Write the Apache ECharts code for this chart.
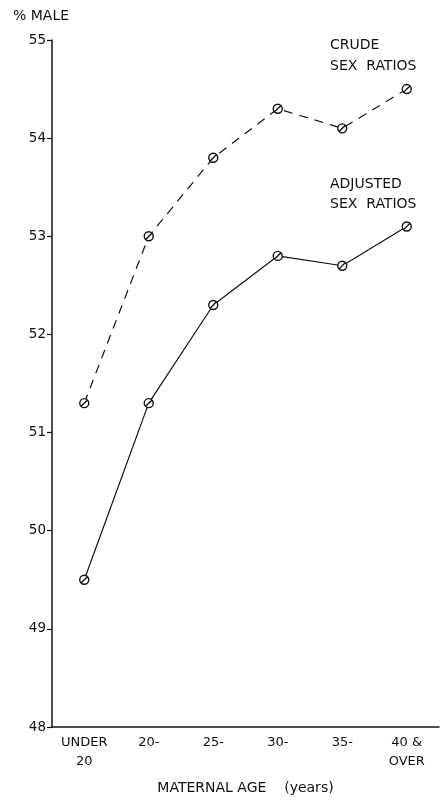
<!DOCTYPE html>
<html>
<head>
<meta charset="utf-8">
<script src="https://cdn.jsdelivr.net/npm/echarts@6/dist/echarts.min.js"></script>
<style>
  html, body { margin: 0; padding: 0; background: #fff; }
  #chart { width: 447px; height: 800px; }
</style>
</head>
<body>
<div id="chart"></div>
<script>
// Maternal age groups and the percentage of male births in each
const ageGroups = ['UNDER\n20', '20-', '25-', '30-', '35-', '40 &\nOVER'];
const crudeRatios = [51.3, 53.0, 53.8, 54.3, 54.1, 54.5];
const adjustedRatios = [49.5, 51.3, 52.3, 52.8, 52.7, 53.1];
const yTicks = [48, 49, 50, 51, 52, 53, 54, 55];

const ink = '#111';
const font = '"DejaVu Sans", "Liberation Sans", sans-serif';
// open circle crossed by a slash, as used for the plotted points
const slashedCircle = 'path://M10,0 A10,10 0 1,1 9.99,0 Z M3,17 L17,3';

const pointStyle = { color: '#fff', borderColor: ink, borderWidth: 1.4 };

const chart = echarts.init(document.getElementById('chart'));
chart.setOption({
  animation: false,
  backgroundColor: '#fff',
  grid: { left: 52, right: 8, top: 40, bottom: 72 },
  xAxis: {
    type: 'category',
    data: ageGroups,
    boundaryGap: true,
    axisLine: { lineStyle: { color: ink, width: 1.5 } },
    axisTick: { show: false },
    axisLabel: {
      color: ink, fontFamily: font, fontSize: 13, margin: 6,
      lineHeight: 19, interval: 0
    },
    name: 'MATERNAL AGE    (years)',
    nameLocation: 'middle',
    nameGap: 54,
    nameTextStyle: { color: ink, fontFamily: font, fontSize: 14 }
  },
  yAxis: {
    type: 'value',
    min: yTicks[0],
    max: yTicks[yTicks.length - 1],
    interval: 1,
    axisLine: { show: true, lineStyle: { color: ink, width: 1.5 } },
    axisTick: { show: true, inside: false, length: 5, lineStyle: { color: ink, width: 1.2 } },
    splitLine: { show: false },
    axisLabel: { color: ink, fontFamily: font, fontSize: 13.5, margin: 6 }
  },
  series: [
    {
      name: 'CRUDE SEX RATIOS',
      type: 'line',
      data: crudeRatios,
      symbol: slashedCircle,
      symbolSize: 9,
      symbolKeepAspect: true,
      lineStyle: { color: ink, width: 1.2, type: [9, 7] },
      itemStyle: pointStyle
    },
    {
      name: 'ADJUSTED SEX RATIOS',
      type: 'line',
      data: adjustedRatios,
      symbol: slashedCircle,
      symbolSize: 9,
      symbolKeepAspect: true,
      lineStyle: { color: ink, width: 1.2 },
      itemStyle: pointStyle
    }
  ],
  graphic: [
    { type: 'text', left: 13, top: 9,
      style: { text: '% MALE', fill: ink, font: '14px ' + font } },
    { type: 'text', left: 330, top: 35,
      style: { text: 'CRUDE\nSEX  RATIOS', fill: ink, font: '14px ' + font, lineHeight: 21 } },
    { type: 'text', left: 330, top: 174,
      style: { text: 'ADJUSTED\nSEX  RATIOS', fill: ink, font: '14px ' + font, lineHeight: 20 } }
  ]
});
</script>
</body>
</html>
